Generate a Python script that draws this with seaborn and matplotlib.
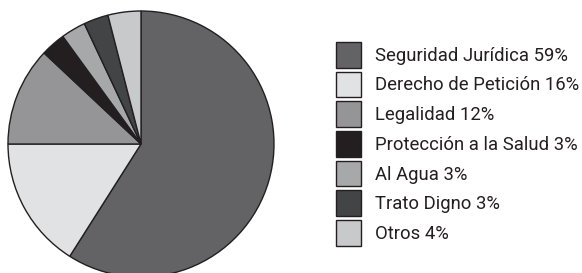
import matplotlib
matplotlib.use("Agg")
import matplotlib.pyplot as plt
import seaborn as sns

categories = ["Seguridad Jurídica", "Derecho de Petición", "Legalidad",
              "Protección a la Salud", "Al Agua", "Trato Digno", "Otros"]
shares = [59, 16, 12, 3, 3, 3, 4]
colors = ["#636365", "#e1e2e4", "#959597", "#231f20", "#a7a8aa", "#434446", "#c8c9cb"]
labels = [f"{c} {s}%" for c, s in zip(categories, shares)]

sns.set_style("white")
plt.rcParams["font.family"] = ["Roboto", "DejaVu Sans"]

W, H = 582, 273
fig = plt.figure(figsize=(W / 100, H / 100), dpi=100)

# pie centre (141, 144) px from top-left, radius 133 px
cx, cy, r = 141, 144, 133
ax = fig.add_axes([(cx - r) / W, (H - cy - r) / H, 2 * r / W, 2 * r / H])
wedges, _ = ax.pie(
    shares,
    colors=colors,
    startangle=90,
    counterclock=False,
    wedgeprops={"edgecolor": "#231f20", "linewidth": 1.0},
)
ax.set_xlim(-1, 1)
ax.set_ylim(-1, 1)
ax.set_aspect("equal")
ax.axis("off")

fs = 13.35
fs_px = fs * 100 / 72
box = 25.5  # legend square size in px
# matplotlib trims the patch height by 0.35*fs*(hh-0.7); solve for hh
hh = (box / fs_px - 0.245) / 0.65
fig.legend(
    wedges, labels,
    loc="upper left",
    bbox_to_anchor=(336 / W, 1 - 42 / H),
    frameon=False,
    fontsize=fs,
    handlelength=box / fs_px,
    handleheight=hh,
    handletextpad=13.5 / fs_px,
    labelspacing=4.2 / fs_px,
    borderpad=0,
    borderaxespad=0,
    labelcolor="#231f20",
)

fig.savefig("out.png", dpi=100)
